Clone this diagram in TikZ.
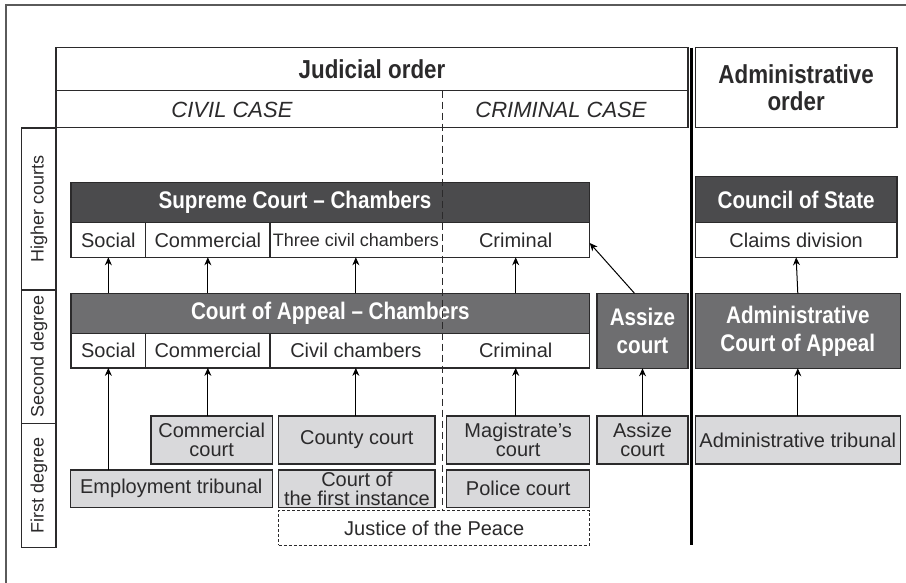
\documentclass[tikz,border=0pt]{standalone}
\usepackage{fontspec}
\setmainfont{Liberation Sans}
\newfontfamily\condfont[FakeStretch=0.86]{Liberation Sans}
\usetikzlibrary{arrows.meta}

\definecolor{inkline}{HTML}{2B2A2B}
\definecolor{framegray}{HTML}{5A5A5A}
\definecolor{supdark}{HTML}{4B4B4D}
\definecolor{appdark}{HTML}{6E6E70}
\definecolor{firstgray}{HTML}{D9D9DB}

\newcommand{\regtext}{\fontsize{20}{19.5}\selectfont}
\newcommand{\smalltext}{\fontsize{18}{19}\selectfont}
\newcommand{\casetext}{\itshape\fontsize{22}{24}\selectfont}
\newcommand{\headtext}{\condfont\bfseries\fontsize{24}{28}\selectfont}
\newcommand{\titletext}{\condfont\bfseries\fontsize{26}{27}\selectfont}

\tikzset{
  box/.style={draw=inkline, line width=1.3pt, inner sep=0pt, outer sep=0pt,
    anchor=north west, align=center, text=inkline},
  cell/.style={box, fill=white, font=\regtext},
  chamber/.style={inner sep=0pt, outer sep=0pt, anchor=north west,
    minimum height=34.6pt, font=\regtext, text=inkline},
  rowline/.style={draw=inkline, line width=1.3pt},
  head/.style={box, fill=#1, text=white, font=\headtext},
  first/.style={box, fill=firstgray, font=\regtext},
  degree/.style={draw=inkline, line width=1.3pt, inner sep=0pt, rotate=90,
    minimum height=34.3pt, font=\smalltext, text=inkline},
  up/.style={-{Stealth[length=8pt,width=7pt]}, line width=1pt, draw=black},
}

\begin{document}
\begin{tikzpicture}[x=1pt, y=-1pt]
  \useasboundingbox (0,0) rectangle (906,583);
  \draw[framegray, line width=1.5pt] (6,583) -- (6,5) -- (906,5);

  % orders and cases
  \node[cell, font=\titletext, minimum width=632pt, minimum height=43pt]
    (judicial) at (56,47.7) {Judicial order};
  \node[cell, minimum width=632pt, minimum height=37pt] (cases) at (56,90.7) {};
  \node[font=\casetext, text=inkline] (civil) at (232,109.5) {CIVIL CASE};
  \node[font=\casetext, text=inkline] (criminal) at (561,109.5) {CRIMINAL CASE};
  \node[cell, font=\titletext, minimum width=201.7pt, minimum height=80pt]
    (admin) at (695.3,47.7) {Administrative\\order};

  % degrees
  \node[degree, minimum width=162pt] (higher) at (38.85,209) {Higher courts};
  \node[degree, minimum width=133.3pt] (second) at (38.85,356.65) {Second degree};
  \node[degree, minimum width=124pt] (firstdeg) at (38.85,485.3) {First degree};

  % higher courts
  \node[head=supdark, minimum width=518.7pt, minimum height=40.4pt]
    (sc-head) at (71,182.3) {};
  \node[text=white, font=\headtext] at (295,202.5) {Supreme Court – Chambers};
  \node[chamber, minimum width=74.7pt] (sc-social) at (71,222.7) {Social};
  \node[chamber, minimum width=124.3pt] (sc-com) at (145.7,222.7) {Commercial};
  \node[chamber, minimum width=171.7pt, font=\smalltext] (sc-civ) at (270,222.7)
    {Three civil chambers};
  \node[chamber, minimum width=148pt] (sc-crim) at (441.7,222.7) {Criminal};

  \node[head=supdark, minimum width=201.7pt, minimum height=46pt]
    (council) at (695.3,176.7) {Council of State};
  \node[cell, minimum width=201.7pt, minimum height=34.6pt] (claims)
    at (695.3,222.7) {Claims division};

  % second degree
  \node[head=appdark, minimum width=518.7pt, minimum height=40pt]
    (ca-head) at (71,293.3) {Court of Appeal – Chambers};
  \node[chamber, minimum width=74.7pt] (ca-social) at (71,333.3) {Social};
  \node[chamber, minimum width=124.3pt] (ca-com) at (145.7,333.3) {Commercial};
  \node[chamber, minimum width=171.7pt] (ca-civ) at (270,333.3) {Civil chambers};
  \node[chamber, minimum width=148pt] (ca-crim) at (441.7,333.3) {Criminal};

  \node[head=appdark, minimum width=91pt, minimum height=75pt]
    (assize) at (597,293.3) {Assize\\court};
  \node[head=appdark, minimum width=205pt, minimum height=75pt]
    (admcoa) at (695.3,293.3) {Administrative\\Court of Appeal};

  \foreach \r in {sc,ca} {
    \draw[rowline] (\r-social.north west) rectangle (\r-crim.south east);
    \draw[rowline] (\r-com.north west) -- (\r-com.south west)
                   (\r-civ.north west) -- (\r-civ.south west);
  }

  % first degree
  \node[first, minimum width=121.3pt, minimum height=48pt] (comcourt)
    at (151,416) {Commercial\\court};
  \node[first, minimum width=156.3pt, minimum height=48pt] (county)
    at (278.7,416) {County court};
  \node[first, minimum width=143pt, minimum height=48pt] (magis)
    at (446.7,416) {Magistrate’s\\court};
  \node[first, minimum width=91pt, minimum height=48pt] (assizelow)
    at (597,416) {Assize\\court};
  \node[first, minimum width=205pt, minimum height=48pt] (admtrib)
    at (695.3,416) {Administrative tribunal};
  \node[first, minimum width=202pt, minimum height=37.3pt] (employ)
    at (70.3,470) {Employment tribunal};
  \node[first, minimum width=156.3pt, minimum height=37.3pt] (instance)
    at (278.7,470) {Court of\\the first instance};
  \node[first, minimum width=143pt, minimum height=37.3pt] (police)
    at (446.7,470) {Police court};
  \node[box, font=\regtext, dash pattern=on 3pt off 2pt, line width=1pt,
    minimum width=311pt, minimum height=34.3pt] (peace)
    at (278.7,510.7) {Justice of the Peace};

  % dividers
  \draw[inkline, line width=1pt, dash pattern=on 7pt off 4pt]
    (442,90.7) -- (442,510);
  \draw[black, line width=3pt] (691.3,47.7) -- (691.3,545);

  % appeals
  \foreach \c in {social,com,civ,crim}
    \draw[up] (ca-\c |- ca-head.north) -- (sc-\c.south);
  \draw[up] (ca-social |- employ.north) -- (ca-social.south);
  \draw[up] (ca-com |- comcourt.north) -- (ca-com.south);
  \draw[up] (ca-civ |- county.north) -- (ca-civ.south);
  \draw[up] (ca-crim |- magis.north) -- (ca-crim.south);
  \draw[up] (assizelow.north) -- (assize.south);
  \draw[up] (admtrib.north) -- (admcoa.south);
  \draw[up] (admcoa.north) -- (claims.south);
  \draw[up] ([xshift=-8pt]assize.north) -- ([yshift=-3pt]sc-crim.east);
\end{tikzpicture}
\end{document}
